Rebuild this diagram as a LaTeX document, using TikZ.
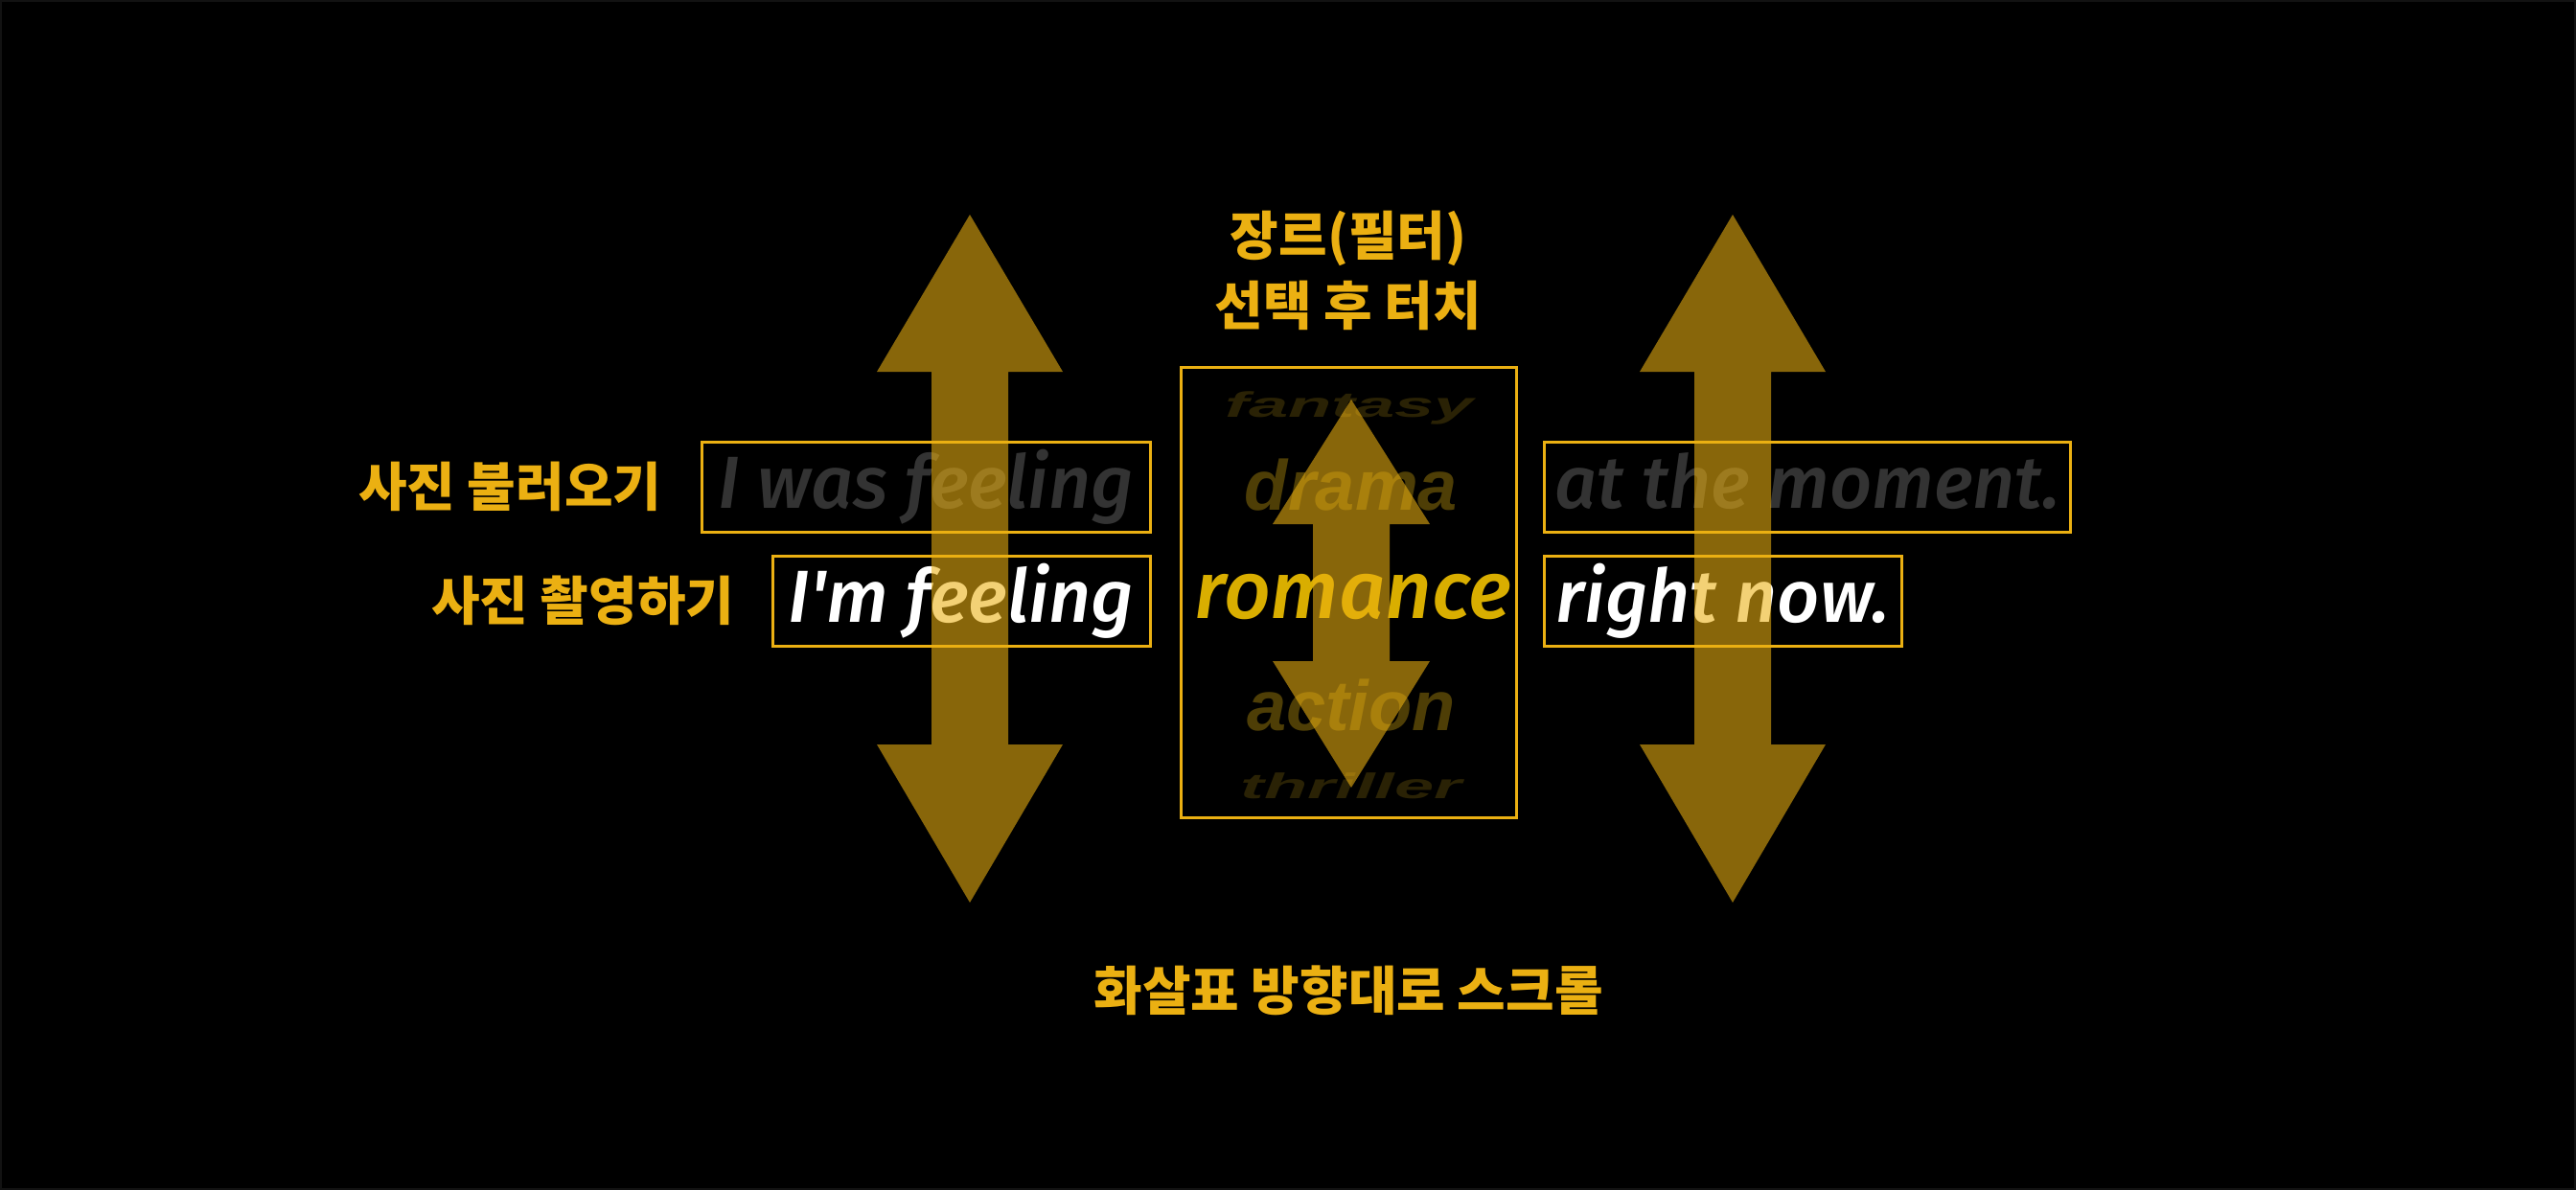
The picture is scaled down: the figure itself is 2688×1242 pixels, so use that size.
\documentclass[tikz,border=0pt]{standalone}
\usepackage{fontspec}
\setmainfont{Open Sans}
\newfontfamily\krfont{Noto Sans CJK KR}
\newfontfamily\genrefont{Liberation Sans}
\IfFontExistsTF{Fira Sans Medium Italic}
  {\newfontfamily\phrasefont{Fira Sans}[UprightFont=* Medium, ItalicFont=* Medium Italic]}
  {\newfontfamily\phrasefont{Fira Sans}}
\usetikzlibrary{positioning}
\definecolor{gold}{HTML}{EBB012}
\definecolor{romancegold}{HTML}{D9AE00}
\definecolor{ghost}{HTML}{333333}
\definecolor{dimgold}{HTML}{4E3E06}
\definecolor{darkgold}{HTML}{2A2205}
\tikzset{
  phrasebox/.style={draw=gold, line width=3pt, inner sep=0pt, minimum height=94pt,
    text height=60pt, text depth=16pt, font=\phrasefont\itshape\fontsize{77}{80}\selectfont},
  krlabel/.style={text=gold, inner sep=0pt, font=\krfont\bfseries\fontsize{55}{73}\selectfont},
  genre/.style={inner sep=0pt, anchor=base, font=\genrefont\bfseries\itshape\fontsize{74}{80}\selectfont},
  squashed/.style={genre, yscale=0.5, transform shape, text=darkgold},
  scrollarrow/.style={fill=gold, fill opacity=0.58}
}
\begin{document}
\begin{tikzpicture}[x=1pt,y=-1pt]
  \fill[black] (0,0) rectangle (2688,1242);
  \useasboundingbox (0,0) rectangle (2688,1242);
  \draw[black!93!white, line width=1.5pt] (1,1) rectangle (2687,1241);
  % phrase boxes
  \node[phrasebox, minimum width=468pt, text=ghost] (wasfeeling) at (966,508) {I was feeling};
  \node[phrasebox, minimum width=394pt, text=white] (imfeeling) at (1003,627) {I'm feeling};
  \node[phrasebox, minimum width=549pt, text=ghost] (moment) at (1886,508) {at the moment.};
  \node[phrasebox, minimum width=373pt, text=white] (rightnow) at (1798,627) {right now.};
  \node[krlabel, left=40pt of wasfeeling] (load) {사진 불러오기};
  \node[krlabel, left=38pt of imfeeling] (shoot) {사진 촬영하기};
  % genre picker
  \node[draw=gold, line width=3pt, minimum width=350pt, minimum height=470pt] (genrebox) at (1407,618) {};
  \node[krlabel, align=center] (pick) at (1407,282) {장르(필터)\\선택 후 터치};
  \node[krlabel] (hint) at (1407,1034) {화살표 방향대로 스크롤};
  \node[squashed] (fantasy) at (1408,435) {fantasy};
  \node[genre, text=dimgold] (drama) at (1410,532) {drama};
  \node[genre, text=romancegold, font=\phrasefont\itshape\fontsize{85}{90}\selectfont] (romance) at (1412,645) {romance};
  \node[genre, text=dimgold] (action) at (1410,762) {action};
  \node[squashed] (thriller) at (1410,833) {thriller};
  % arrows
  \foreach \cx in {1012,1808}
    \fill[scrollarrow] (\cx,224) -- (\cx+97,388) -- (\cx+40,388) -- (\cx+40,777) -- (\cx+97,777)
      -- (\cx,942) -- (\cx-97,777) -- (\cx-40,777) -- (\cx-40,388) -- (\cx-97,388) -- cycle;
  \fill[scrollarrow] (1410,417) -- (1492,547) -- (1450,547) -- (1450,690) -- (1492,690)
    -- (1410,822) -- (1328,690) -- (1370,690) -- (1370,547) -- (1328,547) -- cycle;
\end{tikzpicture}
\end{document}
